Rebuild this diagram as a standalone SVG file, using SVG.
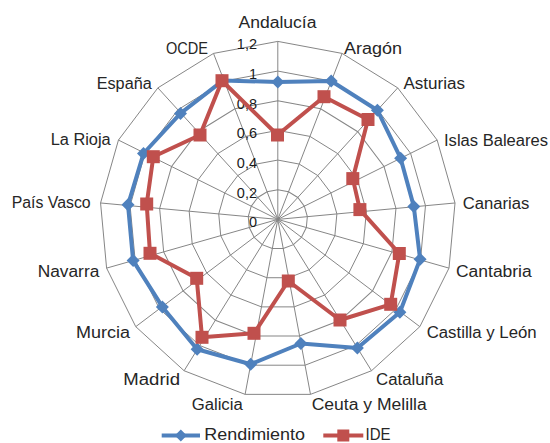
<svg xmlns="http://www.w3.org/2000/svg" xmlns:xlink="http://www.w3.org/1999/xlink" width="550" height="443" viewBox="0 0 550 443">
<style>
.grid{fill:none;stroke:#868686}
.lbl{font-family:"Liberation Sans",Arial,sans-serif;font-size:16px;fill:#262626}
.num{font-family:"Liberation Sans",Arial,sans-serif;font-size:14.5px;fill:#1a1a1a;text-anchor:end}
.s1{fill:none;stroke:#4F81BD;stroke-width:4;stroke-linejoin:round}
.s2{fill:none;stroke:#C0504D;stroke-width:4;stroke-linejoin:round}
</style>
<defs>
<polygon id="ring" points="0,-178 64.29,-165.99 119.92,-131.54 159.35,-79.33 177.23,-16.43 171.2,48.72 142.04,107.26 93.7,151.34 32.7,174.97 -32.7,174.97 -93.7,151.34 -142.04,107.26 -171.2,48.72 -177.23,-16.43 -159.35,-79.33 -119.92,-131.54 -64.29,-165.99"/>
<marker id="dia" markerUnits="userSpaceOnUse" markerWidth="14" markerHeight="14" refX="7" refY="7" overflow="visible">
<polygon points="7,0.5 13.5,7 7,13.5 0.5,7" fill="#4F81BD"/>
</marker>
<marker id="sq" markerUnits="userSpaceOnUse" markerWidth="14" markerHeight="14" refX="7" refY="7" overflow="visible">
<rect x="0.5" y="0.5" width="13" height="13" fill="#C0504D"/>
</marker>
</defs>
<rect width="550" height="443" fill="#ffffff"/>
<g id="grid" transform="translate(277.8,219.4)">
<path class="grid" d="M0,0L0,-178M0,0L64.29,-165.99M0,0L119.92,-131.54M0,0L159.35,-79.33M0,0L177.23,-16.43M0,0L171.2,48.72M0,0L142.04,107.26M0,0L93.7,151.34M0,0L32.7,174.97M0,0L-32.7,174.97M0,0L-93.7,151.34M0,0L-142.04,107.26M0,0L-171.2,48.72M0,0L-177.23,-16.43M0,0L-159.35,-79.33M0,0L-119.92,-131.54M0,0L-64.29,-165.99"/>
<use xlink:href="#ring" class="grid" transform="scale(0.16667)" stroke-width="6"/>
<use xlink:href="#ring" class="grid" transform="scale(0.33333)" stroke-width="3"/>
<use xlink:href="#ring" class="grid" transform="scale(0.5)" stroke-width="2"/>
<use xlink:href="#ring" class="grid" transform="scale(0.66667)" stroke-width="1.5"/>
<use xlink:href="#ring" class="grid" transform="scale(0.83333)" stroke-width="1.2"/>
<use xlink:href="#ring" class="grid" stroke-width="1"/>
</g>
<g id="axis-values">
<text class="num" x="257" y="227.4">0</text>
<text class="num" x="257" y="197.7">0,2</text>
<text class="num" x="257" y="168.1">0,4</text>
<text class="num" x="257" y="138.4">0,6</text>
<text class="num" x="257" y="108.7">0,8</text>
<text class="num" x="257" y="79">1</text>
<text class="num" x="257" y="49.4">1,2</text>
</g>
<g id="connectors">
<polygon id="rendimiento" class="s1" marker-start="url(#dia)" marker-mid="url(#dia)" points="277.8,81.9 331.2,81 377.4,110.2 400.6,158.2 413.8,206.4 420.1,259.3 399.9,312.3 357.4,348 300.9,343.5 250.7,364.2 197.1,349.2 162.4,306.9 133.1,260.6 128,204.8 143.5,153.5 180.5,113.4 222.8,80.6"/>
<polygon id="ide" class="s2" marker-start="url(#sq)" marker-mid="url(#sq)" points="277.5,135 324,96.7 368,119.5 352.8,178.6 359.9,209.6 399.3,253.5 390.7,304.3 340,320 288.3,281 254,333.3 202,337.3 196.7,278.3 150,253.3 146.7,204 153.3,156.7 200,135 222,80.7"/>
</g>
<g id="labels">
<text id="n-andalucia" class="lbl" x="238.5" y="28" textLength="78" lengthAdjust="spacingAndGlyphs">Andalucía</text>
<text id="n-aragon" class="lbl" x="344" y="54.3" textLength="58" lengthAdjust="spacingAndGlyphs">Aragón</text>
<text id="n-asturias" class="lbl" x="403.5" y="89" textLength="61.5" lengthAdjust="spacingAndGlyphs">Asturias</text>
<text id="n-baleares" class="lbl" x="444" y="146" textLength="104" lengthAdjust="spacingAndGlyphs">Islas Baleares</text>
<text id="n-canarias" class="lbl" x="462.7" y="209.2" textLength="66.6" lengthAdjust="spacingAndGlyphs">Canarias</text>
<text id="n-cantabria" class="lbl" x="456" y="276.6" textLength="75.7" lengthAdjust="spacingAndGlyphs">Cantabria</text>
<text id="n-castilla" class="lbl" x="426.7" y="338.2" textLength="110" lengthAdjust="spacingAndGlyphs">Castilla y León</text>
<text id="n-cataluna" class="lbl" x="376" y="385" textLength="67.3" lengthAdjust="spacingAndGlyphs">Cataluña</text>
<text id="n-ceuta" class="lbl" x="311.7" y="410" textLength="115" lengthAdjust="spacingAndGlyphs">Ceuta y Melilla</text>
<text id="n-galicia" class="lbl" x="191.7" y="410" textLength="51" lengthAdjust="spacingAndGlyphs">Galicia</text>
<text id="n-madrid" class="lbl" x="123.3" y="385" textLength="56.7" lengthAdjust="spacingAndGlyphs">Madrid</text>
<text id="n-murcia" class="lbl" x="76" y="338.2" textLength="54" lengthAdjust="spacingAndGlyphs">Murcia</text>
<text id="n-navarra" class="lbl" x="37.7" y="276.6" textLength="61.6" lengthAdjust="spacingAndGlyphs">Navarra</text>
<text id="n-paisvasco" class="lbl" x="11.7" y="208.2" textLength="79" lengthAdjust="spacingAndGlyphs">País Vasco</text>
<text id="n-larioja" class="lbl" x="50.7" y="145" textLength="60" lengthAdjust="spacingAndGlyphs">La Rioja</text>
<text id="n-espana" class="lbl" x="96.7" y="89.2" textLength="55" lengthAdjust="spacingAndGlyphs">España</text>
<text id="n-ocde" class="lbl" x="166" y="54.3" textLength="42" lengthAdjust="spacingAndGlyphs">OCDE</text>
</g>
<g id="legend">
<line x1="161.7" y1="435.5" x2="200" y2="435.5" class="s1"/>
<polygon points="180.8,429.5 186.8,435.5 180.8,441.5 174.8,435.5" fill="#4F81BD"/>
<text class="lbl" x="204.3" y="440" font-size="15" textLength="100.7" lengthAdjust="spacingAndGlyphs">Rendimiento</text>
<line x1="323.3" y1="435.5" x2="363.3" y2="435.5" class="s2"/>
<rect x="337.3" y="429.5" width="12" height="12" fill="#C0504D"/>
<text class="lbl" x="365.5" y="440" font-size="15" textLength="25" lengthAdjust="spacingAndGlyphs">IDE</text>
</g>
</svg>
